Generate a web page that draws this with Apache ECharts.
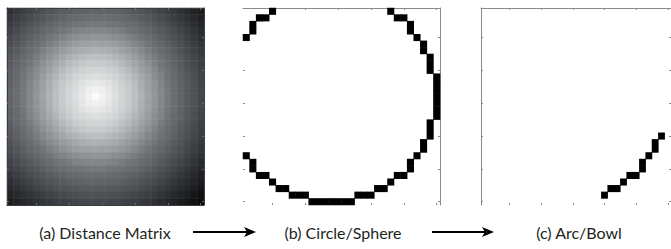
<!DOCTYPE html>
<html>
<head>
<meta charset="utf-8">
<script src="https://cdn.jsdelivr.net/npm/echarts@6/dist/echarts.min.js"></script>
<style>
  html, body { margin: 0; padding: 0; background: #fff; }
  #chart { width: 671px; height: 249px; }
</style>
</head>
<body>
<div id="chart"></div>
<script>
// 30 x 30 grid, ticks every 5 cells (MATLAB style)
const cellLabels = ['1','2','3','4','5','6','7','8','9','10','11','12','13','14','15','16','17','18','19','20','21','22','23','24','25','26','27','28','29','30']
const tickEvery = 5

// (a) distance of each cell to the centre cell (row 14, col 14)
const distanceMatrix = [
  [18.4,17.7,17,16.4,15.8,15.3,14.8,14.3,13.9,13.6,13.3,13.2,13,13,13,13.2,13.3,13.6,13.9,14.3,14.8,15.3,15.8,16.4,17,17.7,18.4,19.1,19.8,20.6],
  [17.7,17,16.3,15.6,15,14.4,13.9,13.4,13,12.6,12.4,12.2,12,12,12,12.2,12.4,12.6,13,13.4,13.9,14.4,15,15.6,16.3,17,17.7,18.4,19.2,20],
  [17,16.3,15.6,14.9,14.2,13.6,13,12.5,12.1,11.7,11.4,11.2,11,11,11,11.2,11.4,11.7,12.1,12.5,13,13.6,14.2,14.9,15.6,16.3,17,17.8,18.6,19.4],
  [16.4,15.6,14.9,14.1,13.5,12.8,12.2,11.7,11.2,10.8,10.4,10.2,10,10,10,10.2,10.4,10.8,11.2,11.7,12.2,12.8,13.5,14.1,14.9,15.6,16.4,17.2,18,18.9],
  [15.8,15,14.2,13.5,12.7,12,11.4,10.8,10.3,9.8,9.5,9.2,9.1,9,9.1,9.2,9.5,9.8,10.3,10.8,11.4,12,12.7,13.5,14.2,15,15.8,16.6,17.5,18.4],
  [15.3,14.4,13.6,12.8,12,11.3,10.6,10,9.4,8.9,8.5,8.2,8.1,8,8.1,8.2,8.5,8.9,9.4,10,10.6,11.3,12,12.8,13.6,14.4,15.3,16.1,17,17.9],
  [14.8,13.9,13,12.2,11.4,10.6,9.9,9.2,8.6,8.1,7.6,7.3,7.1,7,7.1,7.3,7.6,8.1,8.6,9.2,9.9,10.6,11.4,12.2,13,13.9,14.8,15.7,16.6,17.5],
  [14.3,13.4,12.5,11.7,10.8,10,9.2,8.5,7.8,7.2,6.7,6.3,6.1,6,6.1,6.3,6.7,7.2,7.8,8.5,9.2,10,10.8,11.7,12.5,13.4,14.3,15.2,16.2,17.1],
  [13.9,13,12.1,11.2,10.3,9.4,8.6,7.8,7.1,6.4,5.8,5.4,5.1,5,5.1,5.4,5.8,6.4,7.1,7.8,8.6,9.4,10.3,11.2,12.1,13,13.9,14.9,15.8,16.8],
  [13.6,12.6,11.7,10.8,9.8,8.9,8.1,7.2,6.4,5.7,5,4.5,4.1,4,4.1,4.5,5,5.7,6.4,7.2,8.1,8.9,9.8,10.8,11.7,12.6,13.6,14.6,15.5,16.5],
  [13.3,12.4,11.4,10.4,9.5,8.5,7.6,6.7,5.8,5,4.2,3.6,3.2,3,3.2,3.6,4.2,5,5.8,6.7,7.6,8.5,9.5,10.4,11.4,12.4,13.3,14.3,15.3,16.3],
  [13.2,12.2,11.2,10.2,9.2,8.2,7.3,6.3,5.4,4.5,3.6,2.8,2.2,2,2.2,2.8,3.6,4.5,5.4,6.3,7.3,8.2,9.2,10.2,11.2,12.2,13.2,14.1,15.1,16.1],
  [13,12,11,10,9.1,8.1,7.1,6.1,5.1,4.1,3.2,2.2,1.4,1,1.4,2.2,3.2,4.1,5.1,6.1,7.1,8.1,9.1,10,11,12,13,14,15,16],
  [13,12,11,10,9,8,7,6,5,4,3,2,1,0,1,2,3,4,5,6,7,8,9,10,11,12,13,14,15,16],
  [13,12,11,10,9.1,8.1,7.1,6.1,5.1,4.1,3.2,2.2,1.4,1,1.4,2.2,3.2,4.1,5.1,6.1,7.1,8.1,9.1,10,11,12,13,14,15,16],
  [13.2,12.2,11.2,10.2,9.2,8.2,7.3,6.3,5.4,4.5,3.6,2.8,2.2,2,2.2,2.8,3.6,4.5,5.4,6.3,7.3,8.2,9.2,10.2,11.2,12.2,13.2,14.1,15.1,16.1],
  [13.3,12.4,11.4,10.4,9.5,8.5,7.6,6.7,5.8,5,4.2,3.6,3.2,3,3.2,3.6,4.2,5,5.8,6.7,7.6,8.5,9.5,10.4,11.4,12.4,13.3,14.3,15.3,16.3],
  [13.6,12.6,11.7,10.8,9.8,8.9,8.1,7.2,6.4,5.7,5,4.5,4.1,4,4.1,4.5,5,5.7,6.4,7.2,8.1,8.9,9.8,10.8,11.7,12.6,13.6,14.6,15.5,16.5],
  [13.9,13,12.1,11.2,10.3,9.4,8.6,7.8,7.1,6.4,5.8,5.4,5.1,5,5.1,5.4,5.8,6.4,7.1,7.8,8.6,9.4,10.3,11.2,12.1,13,13.9,14.9,15.8,16.8],
  [14.3,13.4,12.5,11.7,10.8,10,9.2,8.5,7.8,7.2,6.7,6.3,6.1,6,6.1,6.3,6.7,7.2,7.8,8.5,9.2,10,10.8,11.7,12.5,13.4,14.3,15.2,16.2,17.1],
  [14.8,13.9,13,12.2,11.4,10.6,9.9,9.2,8.6,8.1,7.6,7.3,7.1,7,7.1,7.3,7.6,8.1,8.6,9.2,9.9,10.6,11.4,12.2,13,13.9,14.8,15.7,16.6,17.5],
  [15.3,14.4,13.6,12.8,12,11.3,10.6,10,9.4,8.9,8.5,8.2,8.1,8,8.1,8.2,8.5,8.9,9.4,10,10.6,11.3,12,12.8,13.6,14.4,15.3,16.1,17,17.9],
  [15.8,15,14.2,13.5,12.7,12,11.4,10.8,10.3,9.8,9.5,9.2,9.1,9,9.1,9.2,9.5,9.8,10.3,10.8,11.4,12,12.7,13.5,14.2,15,15.8,16.6,17.5,18.4],
  [16.4,15.6,14.9,14.1,13.5,12.8,12.2,11.7,11.2,10.8,10.4,10.2,10,10,10,10.2,10.4,10.8,11.2,11.7,12.2,12.8,13.5,14.1,14.9,15.6,16.4,17.2,18,18.9],
  [17,16.3,15.6,14.9,14.2,13.6,13,12.5,12.1,11.7,11.4,11.2,11,11,11,11.2,11.4,11.7,12.1,12.5,13,13.6,14.2,14.9,15.6,16.3,17,17.8,18.6,19.4],
  [17.7,17,16.3,15.6,15,14.4,13.9,13.4,13,12.6,12.4,12.2,12,12,12,12.2,12.4,12.6,13,13.4,13.9,14.4,15,15.6,16.3,17,17.7,18.4,19.2,20],
  [18.4,17.7,17,16.4,15.8,15.3,14.8,14.3,13.9,13.6,13.3,13.2,13,13,13,13.2,13.3,13.6,13.9,14.3,14.8,15.3,15.8,16.4,17,17.7,18.4,19.1,19.8,20.6],
  [19.1,18.4,17.8,17.2,16.6,16.1,15.7,15.2,14.9,14.6,14.3,14.1,14,14,14,14.1,14.3,14.6,14.9,15.2,15.7,16.1,16.6,17.2,17.8,18.4,19.1,19.8,20.5,21.3],
  [19.8,19.2,18.6,18,17.5,17,16.6,16.2,15.8,15.5,15.3,15.1,15,15,15,15.1,15.3,15.5,15.8,16.2,16.6,17,17.5,18,18.6,19.2,19.8,20.5,21.2,21.9],
  [20.6,20,19.4,18.9,18.4,17.9,17.5,17.1,16.8,16.5,16.3,16.1,16,16,16,16.1,16.3,16.5,16.8,17.1,17.5,17.9,18.4,18.9,19.4,20,20.6,21.3,21.9,22.6]
]

// (b) black cells of the circle, [col, row], row 0 at the top
const circleCells = [
  [4,0],[22,0],
  [2,1],[3,1],[23,1],[24,1],
  [1,2],[25,2],[1,3],[25,3],
  [0,4],[26,4],
  [27,5],[27,6],
  [28,7],[28,8],[28,9],
  [29,10],[29,11],[29,12],[29,13],[29,14],[29,15],[29,16],
  [28,17],[28,18],[28,19],
  [27,20],[27,21],
  [0,22],[26,22],
  [1,23],[25,23],[1,24],[25,24],
  [2,25],[3,25],[23,25],[24,25],
  [4,26],[22,26],
  [5,27],[6,27],[20,27],[21,27],
  [7,28],[8,28],[9,28],[17,28],[18,28],[19,28],
  [10,29],[11,29],[12,29],[13,29],[14,29],[15,29],[16,29]
]

// (c) black cells of the arc
const arcCells = [
  [28,19],
  [27,20],[27,21],
  [26,22],
  [25,23],[25,24],
  [23,25],[24,25],
  [22,26],
  [20,27],[21,27],
  [19,28]
]

const captions = ['(a) Distance Matrix', '(b) Circle/Sphere', '(c) Arc/Bowl']

// grey ramp of panel (a), near (distance 0) to far (distance 22.6)
const grayRamp = ['#fcfcfc', '#c2c5c7', '#727578', '#3b3e42', '#08090b']

const panelLeft = [7, 243, 481]
const panelTop = 8
const panelSize = 197

// which border lines are visible: [top, right, bottom, left]
const panelLines = [
  [true, true, true, true],
  [true, true, false, false],
  [true, false, false, true]
]

const chart = echarts.init(document.getElementById('chart'), null, { renderer: 'svg' })

const tickInterval = (i) => (i + 1) % tickEvery === 0

function makeAxis(dim, g, position, showLine) {
  const dark = g === 0
  return {
    type: 'category',
    gridIndex: g,
    position,
    data: cellLabels,
    inverse: dim === 'y',
    z: dark ? 3 : 0,
    axisLine: {
      show: showLine,
      lineStyle: { color: dark ? '#3c3c3c' : '#8a8a8a', width: 1 }
    },
    axisTick: {
      show: true,
      inside: true,
      alignWithLabel: true,
      interval: tickInterval,
      length: 2,
      lineStyle: { color: dark ? '#6a6a6a' : '#8a8a8a', width: 1 }
    },
    axisLabel: { show: false },
    splitLine: { show: false },
    splitArea: { show: false }
  }
}

const grids = []
const xAxes = []
const yAxes = []
panelLeft.forEach((left, g) => {
  const [top, right, bottom, leftLine] = panelLines[g]
  grids.push({ left, top: panelTop, width: panelSize, height: panelSize })
  xAxes.push(makeAxis('x', g, 'bottom', bottom))
  xAxes.push(makeAxis('x', g, 'top', top))
  yAxes.push(makeAxis('y', g, 'left', leftLine))
  yAxes.push(makeAxis('y', g, 'right', right))
})

const matrixData = []
distanceMatrix.forEach((row, r) => {
  row.forEach((v, c) => matrixData.push([c, r, v]))
})

const cellSeries = (g, cells) => ({
  type: 'heatmap',
  xAxisIndex: g * 2,
  yAxisIndex: g * 2,
  data: cells.map(([c, r]) => [c, r, 1]),
  itemStyle: { color: '#000', borderWidth: 0 },
  emphasis: { disabled: true }
})

const captionX = [105, 343, 579]
const captionY = 232
const arrows = [[193, 256], [432, 494]]

const graphics = []
captions.forEach((text, i) => {
  graphics.push({
    type: 'text',
    x: captionX[i],
    y: captionY,
    style: {
      text,
      fill: '#231f20',
      font: '16px Lato',
      textAlign: 'center',
      textVerticalAlign: 'middle'
    }
  })
})
arrows.forEach(([x1, x2]) => {
  graphics.push({
    type: 'line',
    shape: { x1, y1: captionY, x2: x2 - 8, y2: captionY },
    style: { stroke: '#000', lineWidth: 2 }
  })
  graphics.push({
    type: 'polygon',
    shape: { points: [[x2 - 12, captionY - 5], [x2, captionY], [x2 - 12, captionY + 5], [x2 - 9, captionY]] },
    style: { fill: '#000' }
  })
})

chart.setOption({
  animation: false,
  backgroundColor: '#fff',
  grid: grids,
  xAxis: xAxes,
  yAxis: yAxes,
  visualMap: {
    show: false,
    seriesIndex: 0,
    min: 0,
    max: 22.6,
    inRange: { color: grayRamp }
  },
  series: [
    {
      type: 'heatmap',
      xAxisIndex: 0,
      yAxisIndex: 0,
      data: matrixData,
      itemStyle: { borderWidth: 0 },
      emphasis: { disabled: true }
    },
    cellSeries(1, circleCells),
    cellSeries(2, arcCells)
  ],
  graphic: graphics
})
</script>
</body>
</html>
